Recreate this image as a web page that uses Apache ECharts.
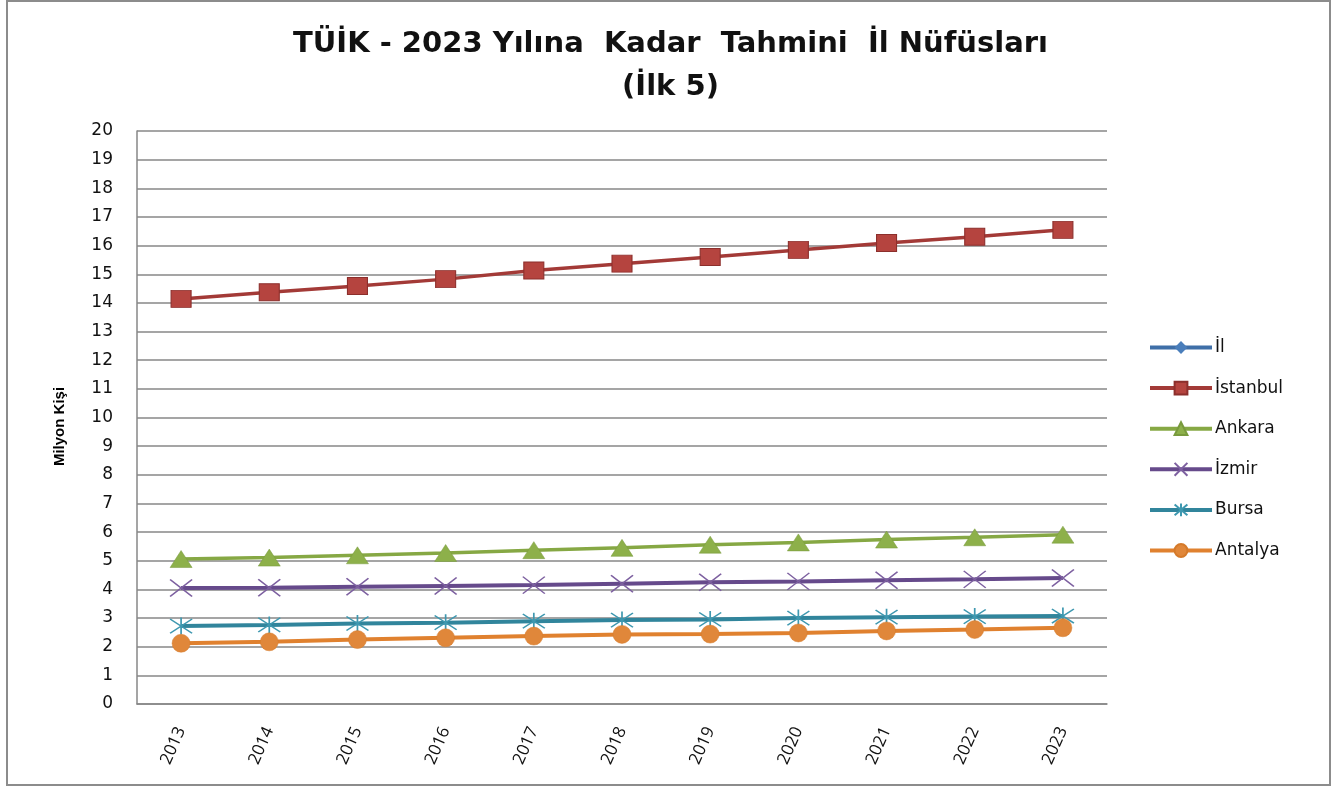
<!DOCTYPE html>
<html>
<head>
<meta charset="utf-8">
<script src="https://cdn.jsdelivr.net/npm/echarts@6/dist/echarts.min.js"></script>
<style>
html,body{margin:0;padding:0;background:#fff;}
#chart{width:1341px;height:787px;}
</style>
</head>
<body>
<div id="chart"></div>
<script>
const years = ['2013','2014','2015','2016','2017','2018','2019','2020','2021','2022','2023'];
const il = [];
const istanbul = [14.14, 14.37, 14.59, 14.83, 15.13, 15.37, 15.60, 15.85, 16.09, 16.31, 16.55];
const ankara = [5.06, 5.11, 5.19, 5.27, 5.37, 5.45, 5.56, 5.64, 5.74, 5.82, 5.91];
const izmir = [4.05, 4.06, 4.09, 4.12, 4.15, 4.20, 4.25, 4.28, 4.32, 4.35, 4.40];
const bursa = [2.72, 2.76, 2.81, 2.84, 2.89, 2.93, 2.95, 3.00, 3.03, 3.05, 3.07];
const antalya = [2.12, 2.17, 2.25, 2.31, 2.37, 2.43, 2.44, 2.48, 2.55, 2.60, 2.66];
const yTicks = [0,1,2,3,4,5,6,7,8,9,10,11,12,13,14,15,16,17,18,19,20];

const crossPath = 'path://M0,0 L20,20 M20,0 L0,20';
const starPath = 'path://M0,0 L20,20 M20,0 L0,20 M10,-2 L10,22';

const chart = echarts.init(document.getElementById('chart'));
chart.setOption({
  animation: false,
  backgroundColor: '#fff',
  title: {
    text: 'TÜİK - 2023 Yılına  Kadar  Tahmini  İl Nüfüsları\n(İlk 5)',
    left: 'center',
    top: 18,
    textStyle: {fontFamily: 'DejaVu Sans', fontWeight: 'bold', fontSize: 29, color: '#111', lineHeight: 43}
  },
  graphic: [{
    type: 'rect', shape: {x: 7, y: 1, width: 1323, height: 784},
    style: {fill: 'none', stroke: '#8c8c8c', lineWidth: 2}, silent: true, z: -1
  }],
  legend: {
    orient: 'vertical',
    left: 1148,
    top: 339,
    padding: 0,
    itemWidth: 62,
    itemHeight: 16,
    itemGap: 23.6,
    lineStyle: {width: 4},
    textStyle: {fontFamily: 'DejaVu Sans', fontSize: 17, color: '#111', padding: [0, 0, 0, -2]},
    data: ['İl','İstanbul','Ankara','İzmir','Bursa','Antalya']
  },
  grid: {left: 137, right: 234, top: 131, bottom: 83},
  xAxis: {
    type: 'category',
    data: years,
    boundaryGap: true,
    axisLine: {lineStyle: {color: '#878787', width: 1.5}},
    axisTick: {show: false},
    axisLabel: {rotate: 66, margin: 24, fontFamily: 'Open Sans', fontSize: 17, color: '#111'}
  },
  yAxis: {
    type: 'value',
    min: 0, max: 20, interval: 1,
    name: 'Milyon Kişi',
    nameLocation: 'middle',
    nameGap: 70,
    nameRotate: 90,
    nameTextStyle: {fontFamily: 'Liberation Sans Narrow, Liberation Sans', fontWeight: 'bold', fontSize: 15, color: '#000', padding: [0, 18, 0, 0]},
    axisLine: {show: true, lineStyle: {color: '#878787', width: 1.5}},
    axisTick: {show: false},
    axisLabel: {margin: 24, fontFamily: 'DejaVu Sans', fontSize: 17, color: '#111',
      formatter: v => yTicks.includes(v) ? String(v) : ''},
    splitLine: {lineStyle: {color: '#878787', width: 1.5}}
  },
  series: [
    {name: 'İl', type: 'line', data: il, symbol: 'diamond', symbolSize: 14,
      lineStyle: {color: '#3f6fa8', width: 3.5}, itemStyle: {color: '#4a7ebb'}},
    {name: 'İstanbul', type: 'line', data: istanbul, symbol: 'rect', symbolSize: [20, 17],
      lineStyle: {color: '#a33a37', width: 3.5},
      itemStyle: {color: '#b5443f', borderColor: '#8c2f2c', borderWidth: 1}},
    {name: 'Ankara', type: 'line', data: ankara, symbol: 'triangle', symbolSize: [22, 17],
      lineStyle: {color: '#86a844', width: 3.5},
      itemStyle: {color: '#8db04a', borderColor: '#789a3c', borderWidth: 0.5}},
    {name: 'İzmir', type: 'line', data: izmir, symbol: crossPath, symbolSize: [22, 17],
      lineStyle: {color: '#664a8b', width: 4},
      itemStyle: {color: 'rgba(0,0,0,0)', borderColor: '#7d60a0', borderWidth: 1.5}},
    {name: 'Bursa', type: 'line', data: bursa, symbol: starPath, symbolSize: [22, 17],
      lineStyle: {color: '#31859c', width: 4},
      itemStyle: {color: 'rgba(0,0,0,0)', borderColor: '#3e98b0', borderWidth: 1.5}},
    {name: 'Antalya', type: 'line', data: antalya, symbol: 'circle', symbolSize: 18,
      lineStyle: {color: '#e0812f', width: 4},
      itemStyle: {color: '#e0873a', borderColor: '#d57a2a', borderWidth: 0.5}}
  ]
});
</script>
</body>
</html>
